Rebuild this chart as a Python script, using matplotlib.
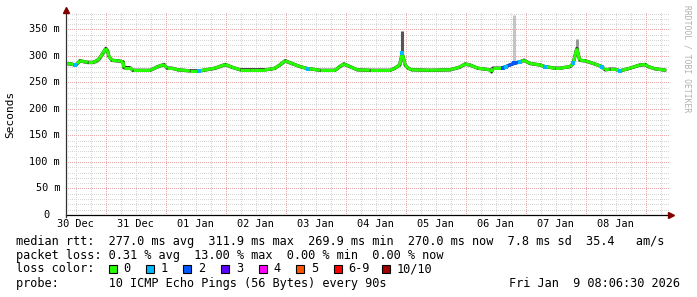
import numpy as np
import matplotlib
matplotlib.use('Agg')
import matplotlib.pyplot as plt
from matplotlib.collections import LineCollection
from matplotlib.patches import Rectangle
import matplotlib.transforms as mtransforms

# --- DATA (x = days since 30 Dec 00:00) ---
t = [0.34, 0.42, 0.49, 0.52, 0.57, 0.65, 0.70, 0.79, 0.85, 0.90, 0.95, 1.00, 1.03, 1.05,
     1.10, 1.19, 1.25, 1.29, 1.30, 1.40, 1.45, 1.74, 1.87, 1.97, 2.02, 2.10, 2.20, 2.40,
     2.55, 2.57, 2.82, 2.99, 3.10, 3.24, 3.40, 3.65, 3.74, 3.82, 3.90, 3.99, 4.12, 4.24,
     4.37, 4.40, 4.57, 4.82, 4.90, 4.97, 5.07, 5.19, 5.40, 5.74, 5.82, 5.90, 5.94, 5.99,
     6.04, 6.10, 6.40, 6.74, 6.90, 6.99, 7.07, 7.20, 7.40, 7.43, 7.45, 7.57, 7.62, 7.67,
     7.80, 7.90, 7.97, 8.07, 8.24, 8.32, 8.49, 8.57, 8.74, 8.79, 8.85, 8.90, 8.99, 9.15,
     9.27, 9.32, 9.40, 9.49, 9.57, 9.74, 9.90, 9.99, 10.04, 10.15, 10.34]
median = [286, 285, 283, 285, 291, 289, 288, 288, 291, 296, 305, 314, 310, 300,
          292, 291, 290, 289, 278, 278, 273, 273, 280, 284, 277, 277, 274, 272,
          272, 272, 277, 284, 279, 274, 274, 274, 275, 277, 283, 291, 285, 280,
          276, 276, 273, 273, 280, 285, 280, 274, 273, 273, 277, 283, 305, 283,
          277, 274, 273, 274, 279, 285, 283, 277, 274, 270, 277, 277, 278, 280,
          286, 289, 292, 286, 283, 280, 277, 277, 280, 286, 314, 292, 291, 285,
          280, 274, 275, 275, 272, 277, 283, 284, 280, 276, 273]
loss = [0, 0, 1, 0, 0, 0, 0, 0, 0, 0, 0, 0, 0, 0,
        0, 0, 0, 0, 0, 0, 0, 0, 0, 0, 0, 0, 0, 0,
        1, 0, 0, 0, 0, 0, 0, 0, 0, 0, 0, 0, 0, 0,
        1, 0, 0, 0, 0, 0, 0, 0, 0, 0, 0, 0, 1, 0,
        0, 0, 0, 0, 0, 0, 0, 0, 0, 0, 0, 0, 2, 1,
        2, 1, 0, 0, 0, 1, 0, 0, 0, 1, 0, 0, 0, 0,
        1, 0, 0, 0, 1, 0, 0, 0, 0, 0, 0]
spread = [3, 3, 3, 3, 3, 3, 3, 3, 4, 5, 6, 7, 6, 5,
          3, 3, 3, 3, 2, 2, 2, 2, 3, 4, 3, 2, 2, 2,
          2, 2, 3, 4, 3, 2, 2, 2, 2, 2, 3, 4, 3, 2,
          2, 2, 2, 2, 3, 4, 3, 2, 2, 2, 2, 3, 8, 3,
          2, 2, 2, 2, 3, 4, 3, 2, 2, 2, 2, 2, 2, 2,
          3, 3, 4, 3, 2, 2, 2, 2, 2, 3, 8, 3, 3, 3,
          2, 2, 2, 2, 2, 2, 3, 4, 3, 2, 2]

# outlier smoke spikes: time, bottom, top of smoke
spike_t = [5.94, 7.81, 8.85]
spike_bot = [305, 286, 314]
spike_top = [347, 377, 333]
spike_col = ['#555555', '#c4c4c4', '#999999']

loss_labels = ['0', '1', '2', '3', '4', '5', '6-9', '10/10']
loss_colors = ['#26ff00', '#00b8ff', '#0059ff', '#5e00ff', '#ff00ff', '#ff5500', '#ff0000', '#a10000']

day_labels = ['30 Dec', '31 Dec', '01 Jan', '02 Jan', '03 Jan', '04 Jan', '05 Jan', '06 Jan', '07 Jan', '08 Jan']
y_ticks = [0, 50, 100, 150, 200, 250, 300, 350]

stats_line1 = 'median rtt:  277.0 ms avg  311.9 ms max  269.9 ms min  270.0 ms now  7.8 ms sd  35.4   am/s'
stats_line2 = 'packet loss: 0.31 % avg  13.00 % max  0.00 % min  0.00 % now'
probe_line = 'probe:       10 ICMP Echo Pings (56 Bytes) every 90s'
stamp = 'Fri Jan  9 08:06:30 2026'

# --- FIGURE ---
W, H = 697, 297
fig = plt.figure(figsize=(W / 100, H / 100), dpi=100)
fig.patch.set_facecolor('white')
MONO = 'DejaVu Sans Mono'

x0, x1, yb, yt = 66, 669, 215, 12
ax = fig.add_axes([x0 / W, (H - yb) / H, (x1 - x0) / W, (yb - yt) / H])
ax.set_xlim(0.3375, 0.3375 + (x1 - x0) / 60)
ax.set_ylim(0, 383)
ax.set_facecolor('white')
for s in ax.spines.values():
    s.set_visible(False)
ax.set_xticks([])
ax.set_yticks([])

# grid (dotted, crisp)
dots = (0, (1, 2))
for v in np.arange(10, 383, 10):
    if v % 50:
        ax.axhline(v, color='#d6d6d6', lw=0.72, ls=dots, antialiased=False, zorder=1)
for d in np.arange(0.25, 11, 0.25):
    if d % 1:
        ax.axvline(d, color='#d6d6d6', lw=0.72, ls=dots, antialiased=False, zorder=1)
for v in y_ticks[1:]:
    ax.axhline(v, color='#e8aaaa', lw=0.72, ls=dots, antialiased=False, zorder=1.5)
for d in range(1, 11):
    ax.axvline(d, color='#e8aaaa', lw=0.72, ls=dots, antialiased=False, zorder=1.5)

# smoke
med = np.array(median)
spr = np.array(spread)
ax.fill_between(t, med - spr, med + spr, color='#c8c8c8', lw=0, zorder=2)
ax.fill_between(t, med - spr / 2, med + spr / 2, color='#8c8c8c', lw=0, zorder=2.1)
ax.vlines(spike_t, spike_bot, spike_top, colors=spike_col, lw=2.2, zorder=2.2)

# median line coloured by loss
ax.plot(t, median, color='#333333', lw=2.4, zorder=3, solid_capstyle='butt')
pts = np.column_stack([t, median])
segs = [pts[i:i + 2] for i in range(len(pts) - 1)]
cols = []
for i in range(len(pts) - 1):
    if loss[i] and loss[i + 1]:
        cols.append(loss_colors[max(loss[i], loss[i + 1])])
    else:
        cols.append(loss_colors[0])
ax.add_collection(LineCollection(segs, colors=cols, lw=2.2, zorder=4, capstyle='butt'))
for ti, mi, li in zip(t, median, loss):
    if li:
        ax.plot(ti, mi, marker='s', ms=3, mew=0, color=loss_colors[li], zorder=4.5)

# axes lines with arrows
ax.plot([0, 1], [0, 0], transform=ax.transAxes, color='black', lw=0.9, clip_on=False, zorder=5)
ax.plot([0, 0], [-0.01, 1], transform=ax.transAxes, color='#333333', lw=0.9, clip_on=False, zorder=5)
ax.plot([1.0 + 2 / 603], [0], marker='>', ms=5, color='#800000', transform=ax.transAxes,
        clip_on=False, zorder=6)
ax.plot([0], [1.0 + 2 / 203], marker='^', ms=5, color='#800000', transform=ax.transAxes,
        clip_on=False, zorder=6)

# y labels
tr = mtransforms.blended_transform_factory(fig.transFigure, ax.transData)
for v in y_ticks:
    if v == 0:
        ax.text(49.5 / W, v, '0', transform=tr, ha='right', va='center', family=MONO, fontsize=7.4)
    else:
        ax.text(60 / W, v, f'{v} m', transform=tr, ha='right', va='center', family=MONO, fontsize=7.4)

# x labels centred at noon of each day
for i, lab in enumerate(day_labels):
    ax.annotate(lab, xy=(i + 0.5, 0), xycoords=('data', 'axes fraction'),
                xytext=(0, -6.6), textcoords='offset points', ha='center', va='center',
                family=MONO, fontsize=7.4, annotation_clip=False)

fig.text(10 / W, 1 - 114 / H, 'Seconds', rotation=90, ha='center', va='center', family=MONO, fontsize=8)
fig.text(687 / W, 1 - 5 / H, 'RRDTOOL / TOBI OETIKER', rotation=-90, ha='center', va='top',
         family=MONO, fontsize=5.8, color='#b0b0b0')

# legend text
fs = 8.52
fig.text(16 / W, 1 - 241 / H, stats_line1, ha='left', va='center', family=MONO, fontsize=fs)
fig.text(16 / W, 1 - 255 / H, stats_line2, ha='left', va='center', family=MONO, fontsize=fs)
fig.text(16 / W, 1 - 269 / H, 'loss color:', ha='left', va='center', family=MONO, fontsize=fs)
sq_x = [108.5, 146, 183.5, 221, 258.5, 296, 333.5, 381.5]
for xs, lab, c in zip(sq_x, loss_labels, loss_colors):
    fig.patches.append(Rectangle((xs / W, 1 - 273 / H), 8 / W, 8 / H, transform=fig.transFigure,
                                 facecolor=c, edgecolor='black', lw=0.8))
    fig.text((xs + 15) / W, 1 - 269 / H, lab, ha='left', va='center', family=MONO, fontsize=fs)
fig.text(16 / W, 1 - 283.5 / H, probe_line, ha='left', va='center', family=MONO, fontsize=fs)
fig.text(680 / W, 1 - 283.5 / H, stamp, ha='right', va='center', family=MONO, fontsize=fs)

fig.savefig('out.png', dpi=100, facecolor='white')
